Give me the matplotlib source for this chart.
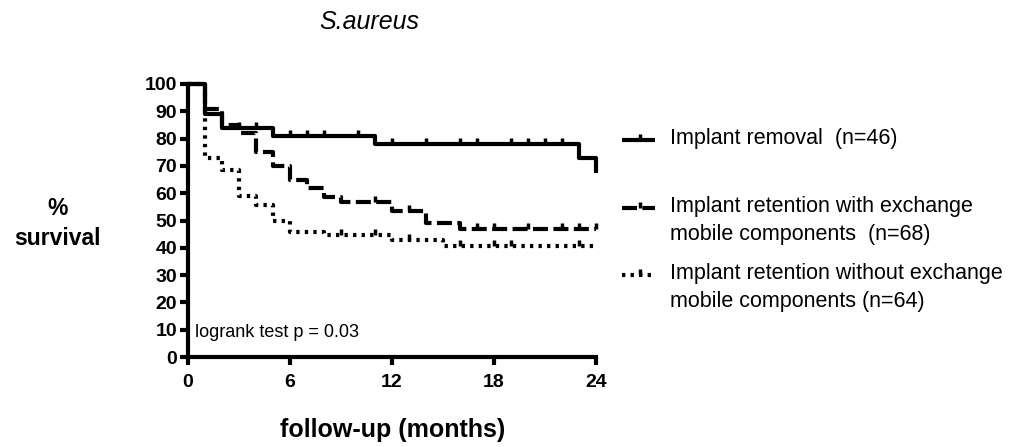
import matplotlib
matplotlib.use("Agg")
import matplotlib.pyplot as plt
from matplotlib.lines import Line2D

plt.rcParams['font.family'] = ['Liberation Sans', 'DejaVu Sans']

# Kaplan-Meier steps (months, % survival)
removal_t = [0, 1, 2, 5, 11, 23, 24]
removal_s = [100, 89, 84, 81, 78, 73, 67.5]
removal_cens_t = [3, 4, 6, 7, 8, 10, 12, 14, 16, 17, 19, 20, 21, 22]
removal_cens_s = [84, 84, 81, 81, 81, 81, 78, 78, 78, 78, 78, 78, 78, 78]

with_t = [0, 1, 2, 3, 4, 5, 6, 7, 8, 9, 12, 14, 16, 24]
with_s = [100, 91, 85, 82, 75, 70, 65, 62, 58.5, 56.8, 53.3, 49, 47, 47]
with_cens_t = [11, 13, 17, 18, 20, 22, 23, 24]
with_cens_s = [56.8, 53.3, 47, 47, 47, 47, 47, 47]

without_t = [0, 1, 2, 3, 4, 5, 6, 8, 12, 15, 24]
without_s = [100, 73, 68.5, 58.8, 55.7, 49.8, 45.9, 44.6, 42.7, 40.5, 40.5]
without_cens_t = [9, 11, 13, 16, 18, 19, 23]
without_cens_s = [44.6, 44.6, 42.7, 40.5, 40.5, 40.5, 40.5]

labels = ['Implant removal  (n=46)',
          'Implant retention with exchange\nmobile components  (n=68)',
          'Implant retention without exchange\nmobile components (n=64)']

tick = [(0, 0), (0, 1)]
lw = 3
solid = dict(color='black', lw=lw, linestyle='-')
dashed = dict(color='black', lw=lw, linestyle=(0, (3.6, 1.3)))
dotted = dict(color='black', lw=lw, linestyle=(0, (0.8, 1.25)))

fig = plt.figure(figsize=(10.13, 4.47), dpi=100)
ax = fig.add_axes([0.1856, 0.2013, 0.4028, 0.6108])

series = [(removal_t, removal_s, removal_cens_t, removal_cens_s, solid),
          (with_t, with_s, with_cens_t, with_cens_s, dashed),
          (without_t, without_s, without_cens_t, without_cens_s, dotted)]
for t, s, ct, cs, st in reversed(series):
    ax.plot(t, s, drawstyle='steps-post', clip_on=False,
            solid_capstyle='butt', dash_capstyle='butt', **st)
    ax.plot(ct, cs, linestyle='none', marker=tick, markersize=9,
            markeredgewidth=2.5, color='black', clip_on=False)

ax.set_xlim(0, 24)
ax.set_ylim(0, 100)
ax.set_xticks([0, 6, 12, 18, 24])
ax.set_yticks(range(0, 101, 10))
for sp in ['top', 'right']:
    ax.spines[sp].set_visible(False)
for sp in ['left', 'bottom']:
    ax.spines[sp].set_linewidth(3)
ax.tick_params(direction='out', length=6, width=3, labelsize=14, pad=2)
ax.tick_params(axis='x', pad=6)
for lab in ax.get_xticklabels() + ax.get_yticklabels():
    lab.set_fontweight('bold')

ax.text(0.4, 9, 'logrank test p = 0.03', fontsize=13, va='center')

fig.text(0.365, 0.951, 'S.aureus', fontsize=18, style='italic',
         ha='center', va='center')
fig.text(0.057, 0.500, '%\nsurvival', fontsize=16.5, fontweight='bold',
         ha='center', va='center', linespacing=1.35)
fig.text(0.388, 0.038, 'follow-up (months)', fontsize=18, fontweight='bold',
         ha='center', va='center')

# legend drawn by hand so the handle sits on the first text line
W, H = 1013, 447
leg_y = [140, 208, 275]
for (t, s, ct, cs, st), y, lab in zip(series, leg_y, labels):
    yf = 1 - y / H
    fig.add_artist(Line2D([622 / W, 655 / W], [yf, yf], transform=fig.transFigure,
                          solid_capstyle='butt', dash_capstyle='butt', **st))
    fig.add_artist(Line2D([640 / W], [yf], transform=fig.transFigure,
                          linestyle='none', marker=tick, markersize=9,
                          markeredgewidth=2.5, color='black'))
    fig.text(670 / W, yf + 0.027, lab, fontsize=15.5, ha='left', va='top',
             linespacing=1.45)

fig.savefig('out.png', dpi=100)
